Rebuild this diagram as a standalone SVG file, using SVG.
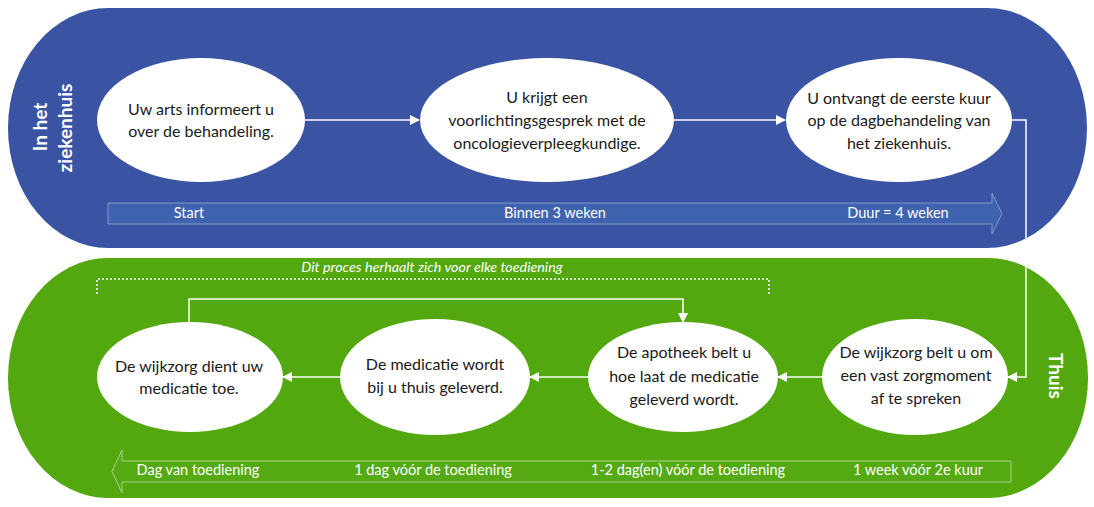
<svg xmlns="http://www.w3.org/2000/svg" width="1094" height="507" viewBox="0 0 1094 507">
<style>
.node{fill:#ffffff}
.nt{font-family:Lato,"Open Sans","Liberation Sans",sans-serif;font-size:16px;fill:#1a1a1a;text-anchor:middle}
.side{font-family:Lato,"Open Sans","Liberation Sans",sans-serif;font-size:19px;font-weight:bold;fill:#ffffff;text-anchor:middle}
.bt{font-family:Lato,"Open Sans","Liberation Sans",sans-serif;font-size:14.5px;fill:#ffffff;text-anchor:middle}
.it{font-family:Lato,"Open Sans","Liberation Sans",sans-serif;font-size:14.3px;font-style:italic;fill:#ffffff;text-anchor:middle}
.conn{fill:none;stroke:#ffffff;stroke-width:1.5}
</style>
<defs>
<marker id="ah" markerWidth="10" markerHeight="10" refX="9" refY="5" orient="auto" markerUnits="userSpaceOnUse">
<path d="M0,0 L10,5 L0,10 Z" fill="#ffffff"/>
</marker>
</defs>
<rect width="1094" height="507" fill="#ffffff"/>
<g id="lane-ziekenhuis">
<rect x="8" y="8" width="1079" height="240" rx="100" ry="120" fill="#3A54A3"/>
<text class="side" transform="translate(47,127) rotate(-90)">In het</text>
<text class="side" transform="translate(72,128) rotate(-90)">ziekenhuis</text>
</g>
<g id="lane-thuis">
<rect x="8" y="258" width="1080" height="240" rx="100" ry="120" fill="#52A80E"/>
<text class="side" transform="translate(1049,376) rotate(90)">Thuis</text>
</g>
<g id="timeline-blue">
<path d="M108,203 H992 V193 L1002,213.5 L992,234 V224 H108 Z" fill="#4063AF" stroke="#8098CF" stroke-width="1"/>
<text class="bt" x="189" y="218">Start</text>
<text class="bt" x="555" y="218">Binnen 3 weken</text>
<text class="bt" x="898" y="218">Duur = 4 weken</text>
</g>
<g id="timeline-green">
<path d="M1011,461 H122 V450 L112,471.5 L122,493 V482 H1011 Z" fill="#55AA14" stroke="#A6D389" stroke-width="1"/>
<text class="bt" x="198" y="475">Dag van toediening</text>
<text class="bt" x="433" y="475">1 dag vóór de toediening</text>
<text class="bt" x="688" y="475">1-2 dag(en) vóór de toediening</text>
<text class="bt" x="918" y="475">1 week vóór 2e kuur</text>
</g>
<g id="repeat-bracket">
<path d="M97,294 V279 H769 V294" fill="none" stroke="#ffffff" stroke-width="1.5" stroke-dasharray="2,2"/>
<text class="it" x="432" y="272">Dit proces herhaalt zich voor elke toediening</text>
</g>
<g id="connectors">
<path class="conn" d="M305,120 H419" marker-end="url(#ah)"/>
<path class="conn" d="M673,120 H785" marker-end="url(#ah)"/>
<path class="conn" d="M1012,120 H1026 V377 H1008" marker-end="url(#ah)"/>
<path class="conn" d="M822,377 H778" marker-end="url(#ah)"/>
<path class="conn" d="M588,377 H530" marker-end="url(#ah)"/>
<path class="conn" d="M340,377 H283" marker-end="url(#ah)"/>
<path class="conn" d="M189,322 V299 H683 V322" marker-end="url(#ah)"/>
</g>
<g id="n1">
<ellipse class="node" cx="201" cy="120" rx="104" ry="62"/>
<text class="nt" x="201" y="115">Uw arts informeert u</text>
<text class="nt" x="201" y="137">over de behandeling.</text>
</g>
<g id="n2">
<ellipse class="node" cx="547" cy="120" rx="127" ry="62"/>
<text class="nt" x="547" y="103">U krijgt een</text>
<text class="nt" x="547" y="126">voorlichtingsgesprek met de</text>
<text class="nt" x="547" y="149">oncologieverpleegkundige.</text>
</g>
<g id="n3">
<ellipse class="node" cx="899" cy="120" rx="113" ry="62"/>
<text class="nt" x="899" y="104">U ontvangt de eerste kuur</text>
<text class="nt" x="899" y="126">op de dagbehandeling van</text>
<text class="nt" x="899" y="149">het ziekenhuis.</text>
</g>
<g id="n4">
<ellipse class="node" cx="190" cy="377" rx="93" ry="55"/>
<text class="nt" x="189" y="372">De wijkzorg dient uw</text>
<text class="nt" x="189" y="394">medicatie toe.</text>
</g>
<g id="n5">
<ellipse class="node" cx="435" cy="377" rx="95" ry="58"/>
<text class="nt" x="435" y="370">De medicatie wordt</text>
<text class="nt" x="435" y="393">bij u thuis geleverd.</text>
</g>
<g id="n6">
<ellipse class="node" cx="683" cy="377" rx="95" ry="55"/>
<text class="nt" x="684" y="358">De apotheek belt u</text>
<text class="nt" x="684" y="382">hoe laat de medicatie</text>
<text class="nt" x="684" y="405">geleverd wordt.</text>
</g>
<g id="n7">
<ellipse class="node" cx="915" cy="377" rx="93" ry="58"/>
<text class="nt" x="916" y="358">De wijkzorg belt u om</text>
<text class="nt" x="916" y="381">een vast zorgmoment</text>
<text class="nt" x="916" y="404">af te spreken</text>
</g>
</svg>
